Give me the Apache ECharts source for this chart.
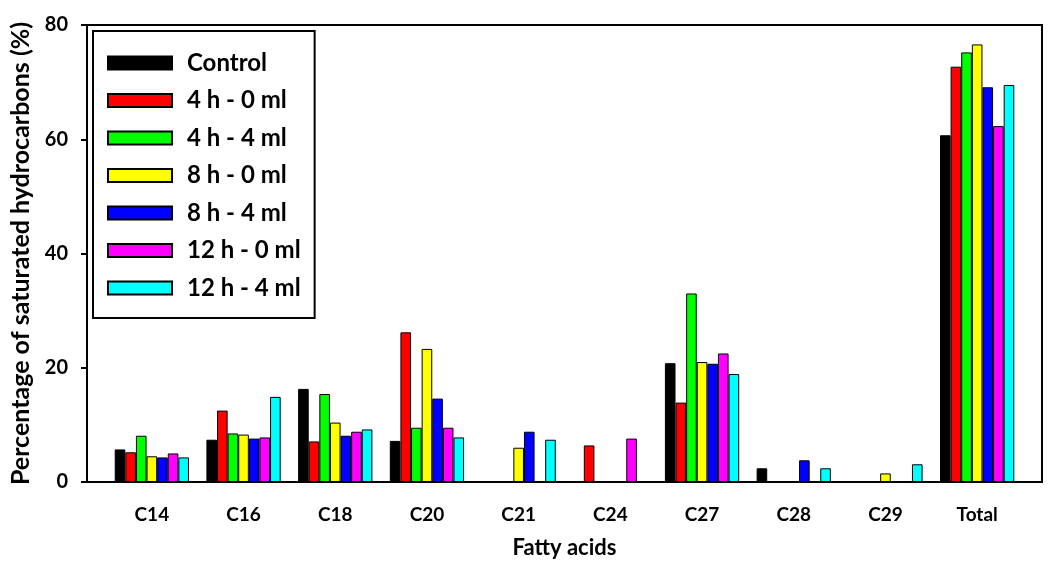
<!DOCTYPE html>
<html>
<head>
<meta charset="utf-8">
<script src="https://cdn.jsdelivr.net/npm/echarts@6/dist/echarts.min.js"></script>
<style>html,body{margin:0;padding:0;background:#fff;}#c{width:1050px;height:572px;}</style>
</head>
<body>
<div id="c"></div>
<script>
const categories = ['C14','C16','C18','C20','C21','C24','C27','C28','C29','Total'];
const seriesNames = ['Control','4 h - 0 ml','4 h - 4 ml','8 h - 0 ml','8 h - 4 ml','12 h - 0 ml','12 h - 4 ml'];
const control  = [5.7, 7.4, 16.3, 7.2, null, null, 20.8, 2.4, null, 60.7];
const h4ml0    = [5.2, 12.5, 7.1, 26.2, null, 6.4, 13.9, null, null, 72.7];
const h4ml4    = [8.1, 8.5, 15.4, 9.5, null, null, 33.0, null, null, 75.2];
const h8ml0    = [4.5, 8.3, 10.4, 23.3, 6.0, null, 21.0, null, 1.5, 76.6];
const h8ml4    = [4.3, 7.6, 8.1, 14.6, 8.8, null, 20.7, 3.8, null, 69.1];
const h12ml0   = [5.0, 7.8, 8.8, 9.5, null, 7.6, 22.5, null, null, 62.3];
const h12ml4   = [4.3, 14.9, 9.2, 7.8, 7.4, null, 18.9, 2.4, 3.1, 69.5];
const yTicks = [0, 20, 40, 60, 80];
const colors = ['#000000','#FF0000','#00FF00','#FFFF00','#0000FF','#FF00FF','#00FFFF'];
const allData = [control, h4ml0, h4ml4, h8ml0, h8ml4, h12ml0, h12ml4];

const font = 'Lato, "Open Sans", sans-serif';
const chart = echarts.init(document.getElementById('c'));
chart.setOption({
  animation: false,
  backgroundColor: '#fff',
  grid: { left: 106, right: 27, top: 25, bottom: 90 },
  legend: {
    orient: 'vertical',
    left: 93, top: 31,
    backgroundColor: '#fff',
    borderColor: '#000', borderWidth: 2,
    padding: [20, 14, 18, 14],
    itemWidth: 64, itemHeight: 13, itemGap: 13.5,
    icon: 'rect',
    textStyle: { fontFamily: font, fontWeight: 'bold', fontSize: 24, color: '#000', padding: [0,0,0,10] },
    data: seriesNames
  },
  xAxis: {
    type: 'category',
    data: categories,
    axisLine: { lineStyle: { color: '#000', width: 2 } },
    axisTick: { alignWithLabel: true, length: 7, lineStyle: { color: '#000', width: 2 } },
    axisLabel: { fontFamily: font, fontWeight: 'bold', fontSize: 19, color: '#000', margin: 23 },
    name: 'Fatty acids', nameLocation: 'middle', nameGap: 55,
    nameTextStyle: { fontFamily: font, fontWeight: 'bold', fontSize: 22, color: '#000' }
  },
  yAxis: {
    type: 'value', min: 0, max: yTicks[yTicks.length-1], interval: 20,
    offset: 19,
    splitLine: { show: false },
    axisLine: { show: true, lineStyle: { color: '#000', width: 2 } },
    axisTick: { show: true, length: 6, lineStyle: { color: '#000', width: 2 } },
    axisLabel: { fontFamily: font, fontWeight: 'bold', fontSize: 20, color: '#000', margin: 19 },
    name: 'Percentage of saturated hydrocarbons (%)', nameLocation: 'middle', nameGap: 50, nameRotate: 90,
    nameTextStyle: { fontFamily: font, fontWeight: 'bold', fontSize: 25, color: '#000' }
  },
  graphic: [{
    type: 'rect', shape: { x: 87, y: 25, width: 955, height: 457 },
    style: { fill: 'none', stroke: '#000', lineWidth: 2 }, silent: true, z: 10
  }],
  series: seriesNames.map((n, i) => ({
    name: n, type: 'bar', data: allData[i],
    barGap: 0, barCategoryGap: '19%',
    itemStyle: { color: colors[i], borderColor: '#000', borderWidth: 1 }
  }))
});
</script>
</body>
</html>
